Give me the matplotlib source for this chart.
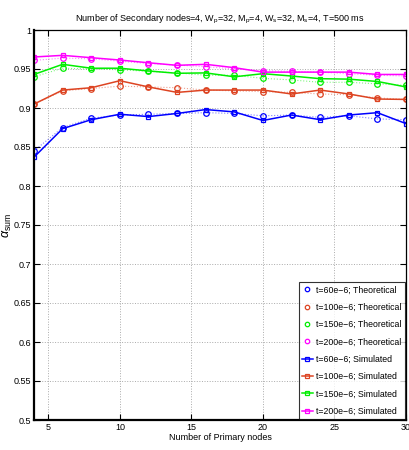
import matplotlib
matplotlib.use('Agg')
import matplotlib.pyplot as plt
from matplotlib.ticker import FormatStrFormatter

plt.rcParams['font.family'] = ['Liberation Sans', 'DejaVu Sans']
plt.rcParams['mathtext.fontset'] = 'custom'
plt.rcParams['mathtext.rm'] = 'Liberation Sans'
plt.rcParams['mathtext.it'] = 'Liberation Sans:italic'

# number of primary nodes
n_primary = [4, 6, 8, 10, 12, 14, 16, 18, 20, 22, 24, 26, 28, 30]

# theoretical values
theo_60 = [0.845, 0.875, 0.887, 0.891, 0.892, 0.893, 0.894, 0.893, 0.890, 0.891, 0.888, 0.890, 0.886, 0.885]
theo_100 = [0.905, 0.922, 0.925, 0.928, 0.927, 0.926, 0.923, 0.922, 0.921, 0.920, 0.918, 0.917, 0.913, 0.911]
theo_150 = [0.940, 0.951, 0.950, 0.949, 0.947, 0.945, 0.942, 0.942, 0.938, 0.936, 0.933, 0.933, 0.931, 0.929]
theo_200 = [0.961, 0.964, 0.963, 0.960, 0.957, 0.955, 0.953, 0.950, 0.948, 0.947, 0.946, 0.944, 0.942, 0.941]

# simulated values
sim_60 = [0.837, 0.8735, 0.885, 0.892, 0.889, 0.893, 0.898, 0.895, 0.884, 0.891, 0.885, 0.891, 0.894, 0.880]
sim_100 = [0.905, 0.923, 0.926, 0.935, 0.927, 0.920, 0.923, 0.923, 0.923, 0.918, 0.923, 0.918, 0.9115, 0.911]
sim_150 = [0.943, 0.956, 0.951, 0.951, 0.9475, 0.9445, 0.945, 0.940, 0.944, 0.941, 0.9376, 0.937, 0.934, 0.927]
sim_200 = [0.9654, 0.9675, 0.9645, 0.9615, 0.958, 0.9547, 0.956, 0.9517, 0.946, 0.946, 0.946, 0.946, 0.943, 0.943]

labels_t = ['60e\u22126', '100e\u22126', '150e\u22126', '200e\u22126']
colors = ['#0000ff', '#dd4422', '#00ee00', '#ff00ff']
theo = [theo_60, theo_100, theo_150, theo_200]
sim = [sim_60, sim_100, sim_150, sim_200]

fig = plt.figure(figsize=(4.1, 4.5), dpi=100)
ax = fig.add_axes([34/410, 30/450, 372/410, 390/450])

handles = []
for t, c, y in zip(labels_t, colors, theo):
    ax.plot(n_primary, y, ':', color=c, lw=0.8, alpha=0.5)
    h, = ax.plot(n_primary, y, 'o', color=c, mfc='none', ms=4, mew=0.9,
                 label='t=%s; Theoretical' % t)
    handles.append(h)
for t, c, y in zip(labels_t, colors, sim):
    h, = ax.plot(n_primary, y, '-s', color=c, mfc='none', ms=3.5, mew=0.9, lw=1.1,
                 label='t=%s; Simulated' % t)
    handles.append(h)

ax.set_xlim(4, 30)
ax.set_ylim(0.5, 1)
ax.set_xticks([5, 10, 15, 20, 25, 30])
ax.set_yticks([0.5, 0.55, 0.6, 0.65, 0.7, 0.75, 0.8, 0.85, 0.9, 0.95, 1])
ax.yaxis.set_major_formatter(FormatStrFormatter('%g'))
ax.tick_params(direction='in', top=True, right=True, labelsize=6.5, length=4, width=0.8, pad=2)
ax.grid(True, ls=':', color='#aaaaaa', lw=0.7)
for s in ax.spines.values():
    s.set_linewidth(0.9)
ax.spines['left'].set_linewidth(1.6)
ax.spines['bottom'].set_linewidth(1.6)

ax.set_xlabel('Number of Primary nodes', fontsize=6.5, labelpad=1)
ax.set_ylabel(r'$\alpha_{\mathrm{sum}}$', fontsize=9)
ax.yaxis.set_label_coords(-0.055, 0.5)
ax.set_title(r'Number of Secondary nodes=4, W$_\mathrm{p}$=32, M$_\mathrm{p}$=4, '
             r'W$_\mathrm{s}$=32, M$_\mathrm{s}$=4, T=500 ms', fontsize=6.5, pad=6)

leg = ax.legend(handles=handles, loc='lower right', fontsize=6.3, frameon=True,
                fancybox=False, edgecolor='black', handlelength=1.2, handletextpad=0.4,
                labelspacing=0.95, borderpad=0.35, borderaxespad=0.15, markerscale=0.8)
leg.get_frame().set_linewidth(0.8)

fig.savefig('out.png', dpi=100)
